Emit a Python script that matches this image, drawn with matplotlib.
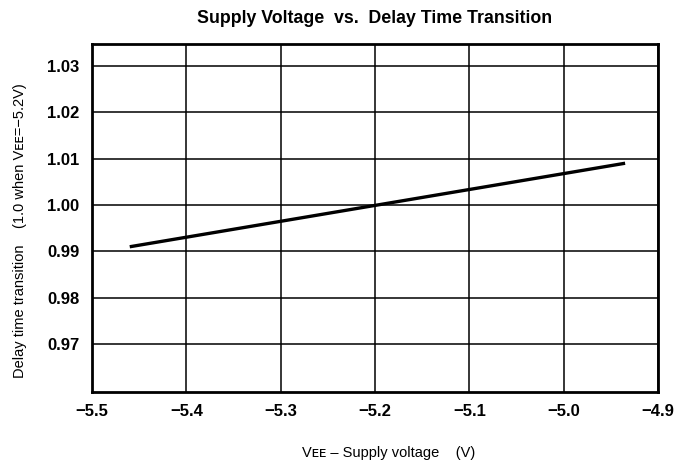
import numpy as np
import matplotlib.pyplot as plt

# data
vee = [-5.46, -4.935]
delay = [0.991, 1.009]

x_ticks = [-5.5, -5.4, -5.3, -5.2, -5.1, -5.0, -4.9]
x_labels = ["\u22125.5", "\u22125.4", "\u22125.3", "\u22125.2", "\u22125.1", "\u22125.0", "\u22124.9"]
y_ticks = [0.97, 0.98, 0.99, 1.00, 1.01, 1.02, 1.03]
y_labels = ["0.97", "0.98", "0.99", "1.00", "1.01", "1.02", "1.03"]

plt.rcParams['font.family'] = ['Liberation Sans', 'DejaVu Sans']

fig = plt.figure(figsize=(6.78, 4.65), dpi=100)
ax = fig.add_axes([0.1357, 0.157, 0.835, 0.7484])

ax.plot(vee, delay, color="black", lw=2.4, solid_capstyle="butt")

ax.set_xlim(-5.5, -4.9)
ax.set_ylim(0.9597, 1.0347)
ax.set_xticks(x_ticks)
ax.set_xticklabels(x_labels, fontsize=12, fontweight="bold")
ax.set_yticks(y_ticks)
ax.set_yticklabels(y_labels, fontsize=12, fontweight="bold")
ax.tick_params(length=0, pad=9)
ax.grid(True, color="black", lw=1.1)
for s in ax.spines.values():
    s.set_linewidth(2)

fig.text(0.552, 0.961, "Supply Voltage  vs.  Delay Time Transition",
         ha="center", va="center", fontsize=12.8, fontweight="bold")
fig.text(0.573, 0.026, "V\u1d07\u1d07 \u2013 Supply voltage    (V)",
         ha="center", va="center", fontsize=10.5)
fig.text(0.03, 0.503, "Delay time transition    (1.0 when V\u1d07\u1d07=\u22125.2V)",
         ha="center", va="center", rotation=90, fontsize=10.5)

fig.savefig("out.png", dpi=100)
